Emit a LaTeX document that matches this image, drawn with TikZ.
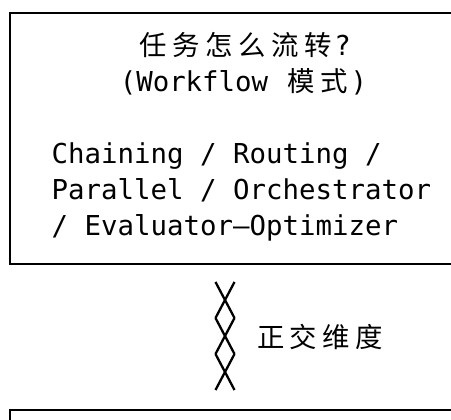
\documentclass[tikz,border=0pt]{standalone}
\usepackage{fontspec}
\setmonofont{DejaVu Sans Mono}
\newfontfamily\cjkfont{Noto Sans CJK SC}
\newlength\cellw
\setlength\cellw{16.5pt}
% one CJK character takes two monospace cells
\newcommand\zi[1]{\makebox[2\cellw]{\cjkfont #1}}

\begin{document}
\begin{tikzpicture}[x=1pt, y=-1pt,
	txt/.style={inner sep=0pt, font=\ttfamily\fontsize{27.4}{36}\selectfont},
	rule/.style={line width=2.2pt},
	cross/.style={line width=2.3pt}]
	\useasboundingbox (0,0) rectangle (451,420);
	
	% upper box, its right side lies past the edge
	\draw[rule] (453,13) -- (10,13) -- (10,264) -- (453,264);
	\node (q1) at (243.5,56) [txt, anchor=base] {\zi{任}\zi{务}\zi{怎}\zi{么}\zi{流}\zi{转}?};
	\node (q2) at (243.5,92) [txt, anchor=base] {(Workflow \zi{模}\zi{式})};
	\node (c1) at (51.5,164) [txt, anchor=base west] {Chaining / Routing /};
	\node (c2) at (51.5,200) [txt, anchor=base west] {Parallel / Orchestrator};
	\node (c3) at (51.5,236) [txt, anchor=base west] {/ Evaluator–Optimizer};
	
	% crossing link between the two boxes
	\coordinate (xtop) at (225,282);
	\foreach \i in {0,1,2} {
		\draw[cross] ([shift={(-9.5,36*\i)}]xtop) -- ([shift={(9.5,36*\i+36)}]xtop);
		\draw[cross] ([shift={(9.5,36*\i)}]xtop) -- ([shift={(-9.5,36*\i+36)}]xtop);
	}
	\node (dim) at (254,348) [txt, anchor=base west] {\zi{正}\zi{交}\zi{维}\zi{度}};
	
	% lower box, only its top left corner shows
	\draw[rule] (453,410) -- (10,410) -- (10,423);
\end{tikzpicture}
\end{document}
